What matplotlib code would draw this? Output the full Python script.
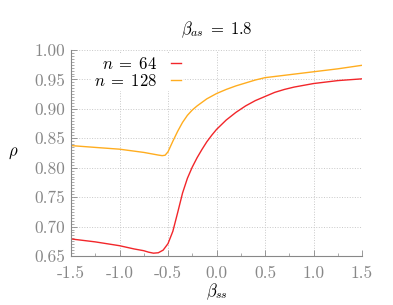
"""
 rho vs beta_ss for beta_as = 1.8, two lattice sizes
"""
import numpy as np
import matplotlib
matplotlib.use('Agg')
import matplotlib.pyplot as plt
from matplotlib.ticker import MultipleLocator

plt.rcParams['mathtext.fontset'] = 'cm'
plt.rcParams['font.family'] = ['cmr10', 'DejaVu Serif']

### data
beta_ss_64 = [-1.5, -1.25, -1.0, -0.85, -0.75, -0.7, -0.65, -0.6, -0.55, -0.5,
              -0.45, -0.4, -0.35, -0.3, -0.25, -0.2, -0.15, -0.1, -0.05, 0.0,
              0.1, 0.2, 0.3, 0.4, 0.5, 0.6, 0.7, 0.8, 1.0, 1.25, 1.5]
rho_64 = [0.679, 0.674, 0.6675, 0.662, 0.659, 0.6565, 0.6548, 0.6555, 0.660, 0.671,
          0.692, 0.724, 0.757, 0.782, 0.801, 0.817, 0.831, 0.844, 0.855, 0.865,
          0.881, 0.894, 0.905, 0.914, 0.921, 0.928, 0.933, 0.937, 0.943, 0.948, 0.951]

beta_ss_128 = [-1.5, -1.25, -1.0, -0.75, -0.65, -0.6, -0.56, -0.53, -0.5, -0.45,
               -0.4, -0.35, -0.3, -0.25, -0.2, -0.1, 0.0, 0.1, 0.2, 0.3,
               0.4, 0.5, 0.75, 1.0, 1.25, 1.5]
rho_128 = [0.8376, 0.8345, 0.8315, 0.826, 0.823, 0.8215, 0.8205, 0.8212, 0.827, 0.845,
           0.862, 0.877, 0.889, 0.898, 0.905, 0.917, 0.926, 0.933, 0.939, 0.944,
           0.949, 0.953, 0.958, 0.963, 0.968, 0.974]

x_ticks = [-1.5, -1.0, -0.5, 0.0, 0.5, 1.0, 1.5]
x_labels = ['-1.5', '-1.0', '-0.5', '0.0', '0.5', '1.0', '1.5']
y_ticks = [0.65, 0.70, 0.75, 0.80, 0.85, 0.90, 0.95, 1.00]
y_labels = ['0.65', '0.70', '0.75', '0.80', '0.85', '0.90', '0.95', '1.00']


def main():
    grey = '#888888'
    fig = plt.figure(figsize=(3.93, 3.05), dpi=100)
    ax = fig.add_axes([71/393, 49/305, 291/393, 206/305])

    ax.plot(beta_ss_64, rho_64, color='#f2262a', lw=1.0, label=r'$n \;=\; 64$')
    ax.plot(beta_ss_128, rho_128, color='#ffad1f', lw=1.0, label=r'$n \;=\; 128$')

    ax.set_xlim(-1.5, 1.5)
    ax.set_ylim(0.65, 1.0)
    ax.set_xticks(x_ticks, x_labels)
    ax.set_yticks(y_ticks, y_labels)
    ax.xaxis.set_minor_locator(MultipleLocator(0.25))
    ax.yaxis.set_minor_locator(MultipleLocator(0.005))
    ax.tick_params(which='both', direction='in', colors=grey, labelsize=12.5,
                   top=False, right=False)
    ax.tick_params(which='major', length=4, width=0.6)
    ax.tick_params(which='minor', length=2, width=0.5)
    ax.tick_params(axis='x', pad=7)
    ax.tick_params(axis='y', pad=4)
    for s in ['top', 'right']:
        ax.spines[s].set_visible(False)
    for s in ['left', 'bottom']:
        ax.spines[s].set_color(grey)
        ax.spines[s].set_linewidth(0.8)

    ax.grid(which='major', color='#c8c8c8', ls=':', lw=0.7)

    ax.set_title(r'$\beta_{as} \;=\; 1.8$', fontsize=12, pad=11)
    ax.set_xlabel(r'$\beta_{ss}$', fontsize=12, labelpad=0)
    ax.set_ylabel(r'$\rho$', fontsize=12, rotation=0, labelpad=8)
    ax.yaxis.set_label_coords(-0.2, 0.46)

    leg = ax.legend(loc='upper left', bbox_to_anchor=(0.06, 1.0), markerfirst=False,
                    frameon=True, fontsize=12, handlelength=0.6, handletextpad=0.8,
                    labelspacing=0.05, borderpad=0.15, borderaxespad=0.2)
    leg.get_frame().set_facecolor('white')
    leg.get_frame().set_edgecolor('none')
    leg.get_frame().set_alpha(1.0)
    for t in leg.get_texts():
        t.set_ha('right')
    leg._legend_box.align = 'right'

    plt.savefig('out.png', dpi=100)


if __name__ == '__main__':
    main()
